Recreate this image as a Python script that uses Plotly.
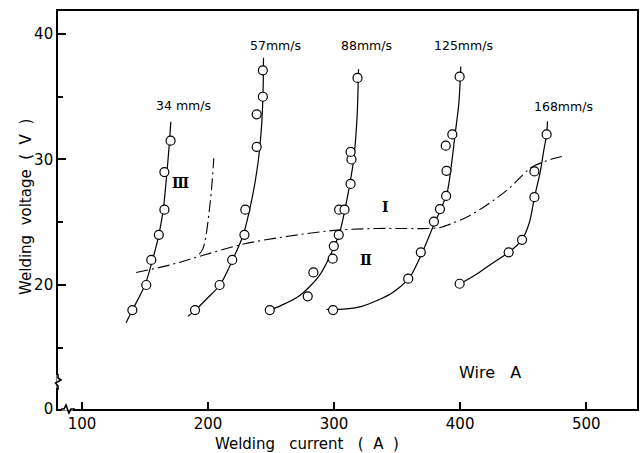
import plotly.graph_objects as go

# ---------------- data ----------------
speeds = ["34 mm/s", "57mm/s", "88mm/s", "125mm/s", "168mm/s"]

# measured points (open circles): welding current (A), welding voltage (V)
p34_I = [140, 151, 155, 161, 165.4, 165.4, 170.3]
p34_V = [18.0, 20.0, 22.0, 24.0, 26.0, 29.0, 31.5]
p57_I = [189.7, 209.2, 219.2, 228.9, 229.6, 238.6, 238.6, 243.5, 243.5]
p57_V = [18.0, 20.0, 22.0, 24.0, 26.0, 31.0, 33.6, 35.0, 37.1]
p88_I = [249, 279.1, 283.6, 298.9, 299.8, 303.7, 304.0, 308.3, 313.1, 313.8, 313.1, 318.6]
p88_V = [18.0, 19.1, 21.0, 22.1, 23.1, 24.0, 26.0, 26.0, 28.05, 30.0, 30.6, 36.5]
p125_I = [299.2, 358.8, 368.8, 379.2, 384.0, 388.9, 389.2, 388.6, 393.8, 399.6]
p125_V = [18.0, 20.5, 22.6, 25.05, 26.05, 27.1, 29.1, 31.1, 32.0, 36.6]
p168_I = [399.6, 438.5, 449.1, 458.9, 458.9, 468.6]
p168_V = [20.1, 22.6, 23.6, 27.0, 29.05, 32.0]

# fitted characteristic curves
c34_I = [135, 140, 150, 156, 161, 164.5, 167, 169.5, 170.5]
c34_V = [17.0, 18.0, 20.0, 22.0, 24.0, 26.0, 28.5, 31.5, 33.0]
c57_I = [184, 190, 200, 209.5, 219.5, 228, 233, 237, 240, 242, 243.2, 243.8, 244]
c57_V = [17.5, 18.0, 19.0, 20.0, 22.0, 24.0, 26.0, 28.0, 30.0, 32.0, 34.0, 36.0, 38.1]
c88_I = [249, 256.5, 272, 288, 299, 305, 309, 312.6, 315.8, 318.4, 319.2, 319.4]
c88_V = [18.0, 18.3, 19.1, 20.7, 22.8, 24.4, 26.2, 28.1, 30.2, 33.7, 36.5, 37.2]
c125_I = [294, 310, 322, 335, 345, 353, 360, 370, 380, 385, 390, 393, 396, 399, 400.2, 400.5]
c125_V = [18.05, 18.1, 18.3, 18.8, 19.3, 19.9, 20.6, 22.6, 25.0, 26.1, 27.5, 29.5, 32.0, 34.5, 36.6, 37.4]
c168_I = [400, 412, 425, 438.5, 449, 455, 459, 463.5, 466.5, 468.6, 469.3]
c168_V = [20.1, 20.8, 21.7, 22.6, 23.6, 25.0, 27.0, 29.0, 30.8, 32.0, 33.05]

# region boundaries (dash-dot)
bI_I = [143, 170, 195.5, 230, 265, 300, 333, 355, 375, 385, 392, 405, 417, 430, 440, 450, 457, 466, 475, 484]
bI_V = [21.0, 21.6, 22.35, 23.3, 23.9, 24.35, 24.5, 24.5, 24.5, 24.6, 24.85, 25.4, 26.1, 27.0, 27.8, 28.8, 29.4, 29.8, 30.1, 30.3]
bIII_I = [193, 196, 198.5, 200.5, 202.5, 204.6]
bIII_V = [22.45, 22.9, 24.0, 25.5, 27.3, 30.1]

x_ticks = [100, 200, 300, 400, 500]
y_ticks = [20, 30, 40]
y_minor = [15, 25, 35]
Y_ZERO = 10.12          # axis-break: the "0" of voltage sits at the bottom of the frame

# ---------------- figure ----------------
fig = go.Figure()
curves = [(c34_I, c34_V), (c57_I, c57_V), (c88_I, c88_V), (c125_I, c125_V), (c168_I, c168_V)]
points = [(p34_I, p34_V), (p57_I, p57_V), (p88_I, p88_V), (p125_I, p125_V), (p168_I, p168_V)]

for xs, ys in curves:
    fig.add_trace(go.Scatter(x=xs, y=ys, mode="lines", line=dict(color="black", width=1.2, shape="spline", smoothing=0.8),
                             hoverinfo="skip", showlegend=False))
for xs, ys in [(bI_I, bI_V), (bIII_I, bIII_V)]:
    fig.add_trace(go.Scatter(x=xs, y=ys, mode="lines",
                             line=dict(color="black", width=1.1, shape="spline", dash="12px,4px,2px,4px"),
                             hoverinfo="skip", showlegend=False))
for (xs, ys), name in zip(points, speeds):
    fig.add_trace(go.Scatter(x=xs, y=ys, mode="markers", name=name,
                             marker=dict(symbol="circle", size=9, color="white", line=dict(color="black", width=1.2)),
                             showlegend=False))

FONT = "DejaVu Sans"
ann = []
label_pos = [(180.6, 34.3), (253.4, 39.1), (326.1, 39.1), (402.8, 39.1), (481.8, 34.2)]
for name, (ax, ay) in zip(speeds, label_pos):
    ann.append(dict(x=ax, y=ay, xref="x", yref="y", text=name, showarrow=False,
                    font=dict(family=FONT, size=12.5, color="black")))
for txt, ax, ay in [("Ⅲ", 178.3, 28.1), ("Ⅰ", 341.1, 26.2), ("Ⅱ", 325.3, 22.0)]:
    ann.append(dict(x=ax, y=ay, xref="x", yref="y", text="<b>%s</b>" % txt, showarrow=False,
                    font=dict(family="DejaVu Serif", size=14, color="black")))
ann.append(dict(x=424, y=13.0, xref="x", yref="y", text="Wire&nbsp;&nbsp;&nbsp;A", showarrow=False,
                font=dict(family=FONT, size=16, color="black")))
# axis titles
ann.append(dict(x=0.430, y=-0.088, xref="paper", yref="paper", xanchor="center", yanchor="middle",
                text="Welding&nbsp;&nbsp;&nbsp;current&nbsp;&nbsp;&nbsp;(&nbsp;&nbsp;A&nbsp;&nbsp;)",
                showarrow=False, font=dict(family=FONT, size=15, color="black")))
ann.append(dict(x=-0.055, y=0.508, xref="paper", yref="paper", xanchor="center", yanchor="middle",
                text="Welding&nbsp;&nbsp;voltage&nbsp;&nbsp;(&nbsp;&nbsp;V&nbsp;&nbsp;)",
                textangle=-90, showarrow=False, font=dict(family=FONT, size=15, color="black")))

# axis-break marks (pixel geometry converted to paper coords of the plot area)
L, T, R, B = 58, 11, 639, 409
def px(x): return (x - L) / (R - L)
def py(y): return (B - y) / (B - T)
shapes = [
    dict(type="line", xref="paper", yref="paper", x0=px(58), x1=px(58), y0=py(375), y1=py(388),
         line=dict(color="white", width=3)),
    dict(type="path", xref="paper", yref="paper",
         path=f"M {px(58)},{py(374)} L {px(58)},{py(378)} L {px(61)},{py(380)} L {px(55.5)},{py(383)} L {px(58)},{py(386)} L {px(58)},{py(390)}",
         line=dict(color="black", width=1.6)),
    dict(type="line", xref="paper", yref="paper", x0=px(62), x1=px(73), y0=py(409), y1=py(409),
         line=dict(color="white", width=3)),
    dict(type="path", xref="paper", yref="paper",
         path=f"M {px(61)},{py(409)} L {px(64)},{py(409)} L {px(66)},{py(405)} L {px(69)},{py(413)} L {px(71)},{py(409)} L {px(75)},{py(409)}",
         line=dict(color="black", width=1.6)),
]

fig.update_layout(
    width=644, height=453,
    margin=dict(l=58, r=5, t=11, b=44),
    paper_bgcolor="white", plot_bgcolor="white",
    annotations=ann, shapes=shapes,
    xaxis=dict(range=[81, 540.3], tickvals=x_ticks, ticktext=[str(v) for v in x_ticks],
               ticks="inside", ticklen=7, tickwidth=1.5, tickcolor="black",
               showline=True, linecolor="black", linewidth=1.6, mirror=True,
               showgrid=False, zeroline=False,
               tickfont=dict(family=FONT, size=15, color="black")),
    yaxis=dict(range=[Y_ZERO, 41.83], tickvals=[Y_ZERO] + y_ticks, ticktext=["0"] + [str(v) for v in y_ticks],
               ticks="inside", ticklen=8, tickwidth=1.5, tickcolor="black",
               minor=dict(tickmode="array", tickvals=y_minor, ticks="inside", ticklen=5, tickwidth=1.5, tickcolor="black"),
               showline=True, linecolor="black", linewidth=1.6, mirror=True,
               showgrid=False, zeroline=False,
               tickfont=dict(family=FONT, size=15, color="black")),
)

fig.write_html("out.html")
